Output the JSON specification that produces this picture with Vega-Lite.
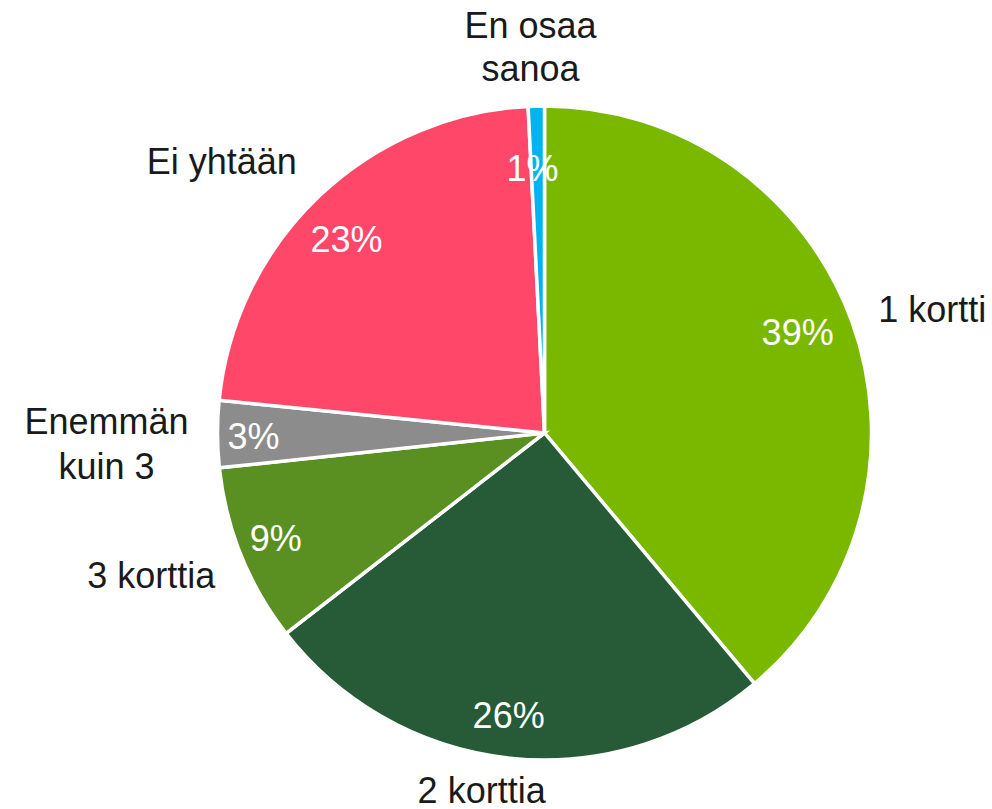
{
  "$schema": "https://vega.github.io/schema/vega-lite/v6.json",
  "width": 895,
  "height": 754,
  "padding": {"left": 97, "top": 56, "right": 0, "bottom": 0},
  "autosize": {"type": "none"},
  "background": "white",
  "config": {"view": {"stroke": null}, "text": {"font": "Liberation Sans", "fontSize": 36}},
  "data": {
    "values": [
      {"cat": "1 kortti", "name": "1 kortti", "value": 38.9, "pct": "39%", "order": 1},
      {"cat": "2 korttia", "name": "2 korttia", "value": 25.6, "pct": "26%", "order": 2},
      {"cat": "3 korttia", "name": "3 korttia", "value": 8.8, "pct": "9%", "order": 3},
      {"cat": "Enemmän kuin 3", "name": "Enemmän\nkuin 3", "value": 3.3, "pct": "3%", "order": 4},
      {"cat": "Ei yhtään", "name": "Ei yhtään", "value": 22.6, "pct": "23%", "order": 5},
      {"cat": "En osaa sanoa", "name": "En osaa\nsanoa", "value": 0.8, "pct": "1%", "order": 6}
    ]
  },
  "encoding": {
    "theta": {"field": "value", "type": "quantitative", "stack": true},
    "order": {"field": "order", "type": "quantitative"}
  },
  "layer": [
    {
      "mark": {"type": "arc", "outerRadius": 327, "stroke": "white", "strokeWidth": 3.5},
      "encoding": {
        "color": {
          "field": "cat",
          "type": "nominal",
          "scale": {
            "domain": ["1 kortti", "2 korttia", "3 korttia", "Enemmän kuin 3", "Ei yhtään", "En osaa sanoa"],
            "range": ["#7AB800", "#275B37", "#5A8F22", "#8C8C8C", "#FF476A", "#00B4F0"]
          },
          "legend": null
        }
      }
    },
    {
      "mark": {"type": "text", "radius": 355, "align": "left", "baseline": "alphabetic", "dx": 0, "dy": 10, "color": "#1a1a1a", "lineBreak": "\n", "lineHeight": 44},
      "encoding": {"text": {"condition": {"test": "datum.cat === '1 kortti'", "field": "name"}, "value": ""}}
    },
    {
      "mark": {"type": "text", "radius": 355, "align": "center", "baseline": "alphabetic", "dx": -25, "dy": 17, "color": "#1a1a1a", "lineBreak": "\n", "lineHeight": 44},
      "encoding": {"text": {"condition": {"test": "datum.cat === '2 korttia'", "field": "name"}, "value": ""}}
    },
    {
      "mark": {"type": "text", "radius": 355, "align": "right", "baseline": "alphabetic", "dx": 0, "dy": 22, "color": "#1a1a1a", "lineBreak": "\n", "lineHeight": 44},
      "encoding": {"text": {"condition": {"test": "datum.cat === '3 korttia'", "field": "name"}, "value": ""}}
    },
    {
      "mark": {"type": "text", "radius": 355, "align": "center", "baseline": "alphabetic", "dx": -83, "dy": 0, "color": "#1a1a1a", "lineBreak": "\n", "lineHeight": 45},
      "encoding": {"text": {"condition": {"test": "datum.cat === 'Enemmän kuin 3'", "field": "name"}, "value": ""}}
    },
    {
      "mark": {"type": "text", "radius": 355, "align": "right", "baseline": "alphabetic", "dx": -3, "dy": -2, "color": "#1a1a1a", "lineBreak": "\n", "lineHeight": 44},
      "encoding": {"text": {"condition": {"test": "datum.cat === 'Ei yhtään'", "field": "name"}, "value": ""}}
    },
    {
      "mark": {"type": "text", "radius": 355, "align": "center", "baseline": "alphabetic", "dx": -5, "dy": -40, "color": "#1a1a1a", "lineBreak": "\n", "lineHeight": 43},
      "encoding": {"text": {"condition": {"test": "datum.cat === 'En osaa sanoa'", "field": "name"}, "value": ""}}
    },
    {
      "mark": {"type": "text", "radius": 280, "align": "center", "baseline": "middle", "dx": -10, "dy": -3, "color": "white"},
      "encoding": {"text": {"condition": {"test": "datum.cat === '1 kortti'", "field": "pct"}, "value": ""}}
    },
    {
      "mark": {"type": "text", "radius": 280, "align": "center", "baseline": "middle", "dx": -6, "dy": 6, "color": "white"},
      "encoding": {"text": {"condition": {"test": "datum.cat === '2 korttia'", "field": "pct"}, "value": ""}}
    },
    {
      "mark": {"type": "text", "radius": 280, "align": "center", "baseline": "middle", "dx": -9, "dy": 2, "color": "white"},
      "encoding": {"text": {"condition": {"test": "datum.cat === '3 korttia'", "field": "pct"}, "value": ""}}
    },
    {
      "mark": {"type": "text", "radius": 280, "align": "center", "baseline": "middle", "dx": -11, "dy": 4, "color": "white"},
      "encoding": {"text": {"condition": {"test": "datum.cat === 'Enemmän kuin 3'", "field": "pct"}, "value": ""}}
    },
    {
      "mark": {"type": "text", "radius": 280, "align": "center", "baseline": "middle", "dx": -5, "dy": 11, "color": "white"},
      "encoding": {"text": {"condition": {"test": "datum.cat === 'Ei yhtään'", "field": "pct"}, "value": ""}}
    },
    {
      "mark": {"type": "text", "radius": 280, "align": "center", "baseline": "middle", "dx": -5, "dy": 17, "color": "white"},
      "encoding": {"text": {"condition": {"test": "datum.cat === 'En osaa sanoa'", "field": "pct"}, "value": ""}}
    }
  ]
}
